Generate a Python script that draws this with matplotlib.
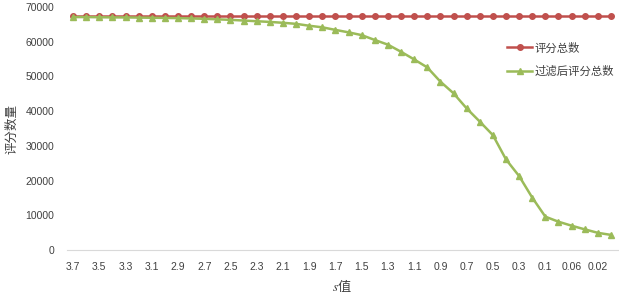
import matplotlib
matplotlib.use('Agg')
import matplotlib.pyplot as plt

plt.rcParams['font.family'] = ['Liberation Sans', 'Noto Sans CJK SC', 'DejaVu Sans']
plt.rcParams['mathtext.fontset'] = 'stix'

# s values (x categories), 42 points
s_values = ['3.7', '3.6', '3.5', '3.4', '3.3', '3.2', '3.1', '3', '2.9', '2.8',
            '2.7', '2.6', '2.5', '2.4', '2.3', '2.2', '2.1', '2', '1.9', '1.8',
            '1.7', '1.6', '1.5', '1.4', '1.3', '1.2', '1.1', '1', '0.9', '0.8',
            '0.7', '0.6', '0.5', '0.4', '0.3', '0.2', '0.1', '0.08', '0.06', '0.04',
            '0.02', '0.01']

# total ratings
total = [67400] * len(s_values)

# ratings after filtering
filtered = [67100, 67100, 67050, 67000, 67000, 66950, 66900, 66850, 66800, 66700,
            66600, 66450, 66300, 66100, 65900, 65700, 65450, 65150, 64600, 64150,
            63400, 62700, 61900, 60500, 59150, 57100, 54900, 52600, 48500, 45150,
            40800, 37000, 33100, 26100, 21300, 15100, 9600, 8150, 7000, 5950,
            4950, 4350]

red = '#C0504D'
green = '#9BBB59'

fig = plt.figure(figsize=(6.19, 2.93), dpi=100)
ax = fig.add_axes([66.5 / 619, 43 / 293, 551 / 619, 243 / 293])

x = list(range(len(s_values)))
ax.plot(x, total, color=red, lw=1.8, marker='o', ms=4, label='评分总数')
ax.plot(x, filtered, color=green, lw=1.8, marker='^', ms=4.5, label='过滤后评分总数')

ax.set_xlim(-0.5, len(s_values) - 0.5)
ax.set_ylim(0, 70000)
ax.set_yticks(range(0, 70001, 10000))
ax.set_xticks(x[::2])
ax.set_xticklabels(s_values[::2])

for side in ['top', 'right', 'left']:
    ax.spines[side].set_visible(False)
ax.spines['bottom'].set_color('#D9D9D9')
ax.tick_params(length=0, labelsize=7.5, colors='#404040')
ax.tick_params(axis='x', pad=9)
ax.tick_params(axis='y', pad=9)

ax.set_xlabel('$s$值', fontsize=9.5, color='#404040', labelpad=3,
              family=['Noto Sans CJK SC', 'DejaVu Sans'])
ax.set_ylabel('评分数量', fontsize=9, color='#404040', labelpad=5,
              family=['Noto Sans CJK SC', 'DejaVu Sans'])

leg = ax.legend(loc='upper left', bbox_to_anchor=(497 / 619, 1 - 32 / 293),
                bbox_transform=fig.transFigure, frameon=False,
                prop={'family': ['Noto Sans CJK SC', 'DejaVu Sans'], 'size': 8.2},
                handlelength=2.2, handletextpad=0.2, labelspacing=1.1)
for t in leg.get_texts():
    t.set_color('#404040')

fig.savefig('out.png', dpi=100)
